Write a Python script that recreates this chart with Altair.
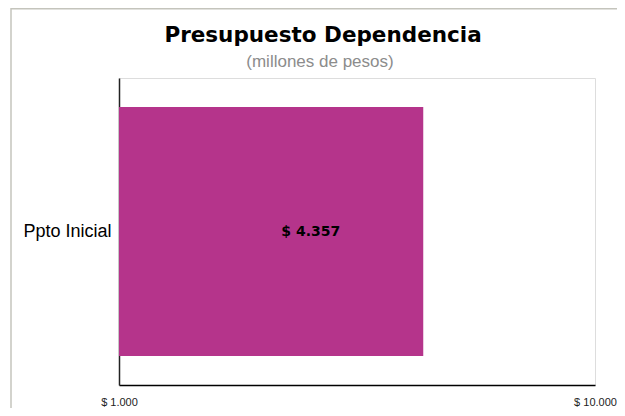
import altair as alt
import pandas as pd

# Data
categories = ["Ppto Inicial"]
values = [4357]
labels = ["$ 4.357"]
axis_ticks = [1000, 10000]
title_text = "Presupuesto Dependencia"
subtitle_text = "(millones de pesos)"

df = pd.DataFrame({"cat": categories, "value": values, "label": labels,
                   "base": [axis_ticks[0]] * len(values)})

W, H = 476, 307

x_enc = alt.X(
    "value:Q",
    scale=alt.Scale(type="log", domain=[axis_ticks[0], axis_ticks[-1]], nice=False),
    axis=alt.Axis(
        values=axis_ticks,
        title=None,
        grid=False,
        ticks=False,
        tickSize=0,
        labelPadding=11,
        labelFontSize=11,
        labelColor="#222222",
        labelFont="Liberation Sans",
        labelExpr="'$ ' + replace(format(datum.value, ',.0f'), ',', '.')",
        domainColor="#000000",
        domainWidth=1.5,
        labelFlush=False,
    ),
)
y_enc = alt.Y(
    "cat:N",
    scale=alt.Scale(paddingInner=0, paddingOuter=0.1165),
    axis=alt.Axis(
        title=None,
        ticks=False,
        tickSize=0,
        labelPadding=8,
        labelFontSize=18,
        labelColor="#000000",
        labelFont="Liberation Sans",
        domainColor="#222222",
        domainWidth=1.5,
    ),
)

bars = alt.Chart(df).mark_bar(color="#b5348b").encode(x=x_enc, x2="base:Q", y=y_enc)

text = alt.Chart(df).mark_text(
    align="right", baseline="middle", dx=-83,
    font="DejaVu Sans", fontWeight="bold", fontSize=14, color="#000000",
).encode(x=alt.X("value:Q"), y=alt.Y("cat:N"), text="label:N")

title_df = pd.DataFrame({"t": [title_text]})
subtitle_df = pd.DataFrame({"t": [subtitle_text]})

title_mark = alt.Chart(title_df).mark_text(
    align="center", baseline="alphabetic", font="DejaVu Sans", fontWeight="bold",
    fontSize=21.5, color="#000000", clip=False,
).encode(x=alt.value(204), y=alt.value(-36), text="t:N")

subtitle_mark = alt.Chart(subtitle_df).mark_text(
    align="center", baseline="alphabetic", font="Liberation Sans",
    fontSize=17, color="#8c8c8c", clip=False,
).encode(x=alt.value(201), y=alt.value(-11.5), text="t:N")

# outer frame (decorative), kept inside the drawing
frame_left = alt.Chart(title_df).mark_rule(color="#c4c4bc", strokeWidth=1.5, clip=False).encode(
    x=alt.value(-108), y=alt.value(-70), y2=alt.value(H + 23)
)
frame_top = alt.Chart(title_df).mark_rule(color="#c4c4bc", strokeWidth=2, clip=False).encode(
    x=alt.value(-108), x2=alt.value(W + 22), y=alt.value(-69.5)
)

chart = alt.layer(frame_left, frame_top, bars, text, title_mark, subtitle_mark).properties(
    width=W,
    height=H,
    autosize=alt.AutoSizeParams(type="none"),
    padding={"left": 111, "top": 70, "right": 22, "bottom": 23},
).configure_view(stroke="#9a9a9a", strokeWidth=1.5).configure(background="white")

chart.save("out.html", embed_options={"renderer": "svg", "actions": False})
